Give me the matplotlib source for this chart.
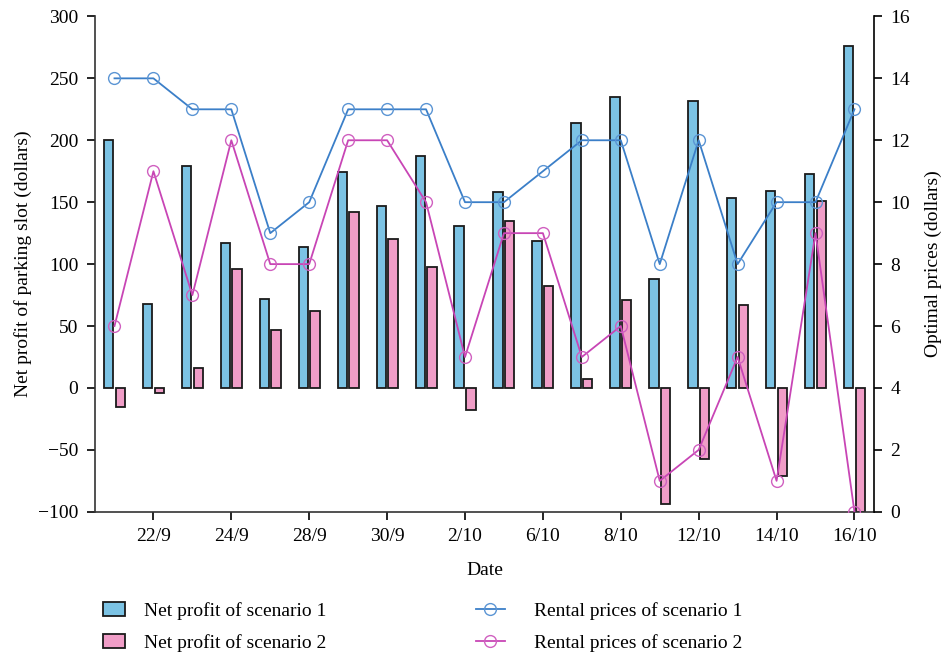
import matplotlib.pyplot as plt
import numpy as np

plt.rcParams['font.family'] = ['Liberation Serif', 'DejaVu Serif']
plt.rcParams['font.size'] = 14

# net profit per day (dollars)
profit1 = [200, 68, 179, 117, 72, 114, 174, 147, 187, 131,
           158, 119, 214, 235, 88, 232, 153, 159, 173, 276]
profit2 = [-15, -4, 16, 96, 47, 62, 142, 120, 98, -18,
           135, 82, 7, 71, -94, -57, 67, -71, 151, -100]
# optimal rental prices (dollars)
price1 = [14, 14, 13, 13, 9, 10, 13, 13, 13, 10,
          10, 11, 12, 12, 8, 12, 8, 10, 10, 13]
price2 = [6, 11, 7, 12, 8, 8, 12, 12, 10, 5,
          9, 9, 5, 6, 1, 2, 5, 1, 9, 0]
tick_labels = ['22/9', '24/9', '28/9', '30/9', '2/10',
               '6/10', '8/10', '12/10', '14/10', '16/10']

x = np.arange(len(profit1))
w = 0.24

fig = plt.figure(figsize=(9.52, 6.57), dpi=100)
ax = fig.add_axes([0.0998, 0.221, 0.8182, 0.754])

b1 = ax.bar(x - 0.15, profit1, w, color='#7cc3e4', edgecolor='#1a1a1a',
            linewidth=1.3, label='Net profit of scenario 1')
b2 = ax.bar(x + 0.15, profit2, w, color='#f09dc7', edgecolor='#1a1a1a',
            linewidth=1.3, label='Net profit of scenario 2')
ax.set_ylim(-100, 300)
ax.set_yticks(np.arange(-100, 301, 50))
ax.set_xlim(-0.5, 19.5)
ax.set_xticks(x[1::2])
ax.set_xticklabels(tick_labels)
ax.set_ylabel('Net profit of parking slot (dollars)')
ax.set_xlabel('Date', labelpad=12)
ax.spines['top'].set_visible(False)
ax.spines['right'].set_visible(False)
ax.tick_params(direction='out', length=6, width=1.2, pad=6)
for s in ['left', 'bottom']:
    ax.spines[s].set_linewidth(1.2)
    ax.spines[s].set_color('#333333')

ax2 = ax.twinx()
l1, = ax2.plot(x, price1, color='#3b7fc8', lw=1.3, marker='o', ms=8.5,
               mfc='none', mec='#5b95d4', mew=1.0,
               label='Rental prices of scenario 1')
l2, = ax2.plot(x, price2, color='#c845b5', lw=1.3, marker='o', ms=8.5,
               mfc='none', mec='#d060c0', mew=1.0,
               label='Rental prices of scenario 2')
ax2.set_ylim(0, 16)
ax2.set_yticks(np.arange(0, 17, 2))
ax2.set_ylabel('Optimal prices (dollars)', labelpad=10)
ax2.spines['top'].set_visible(False)
ax2.spines['left'].set_visible(False)
ax2.spines['bottom'].set_visible(False)
ax2.spines['right'].set_linewidth(1.2)
ax2.tick_params(direction='out', length=6, width=1.2, pad=6)

# bar legend on the left, line legend on the right
leg1 = fig.legend([b1, b2], [b1.get_label(), b2.get_label()],
                  frameon=False, loc='lower left',
                  bbox_to_anchor=(0.0895, -0.019),
                  handlelength=1.15, handleheight=0.75, handletextpad=0.95,
                  labelspacing=0.74)
leg2 = fig.legend([l1, l2], [l1.get_label(), l2.get_label()],
                  frameon=False, loc='lower left',
                  bbox_to_anchor=(0.482, -0.019),
                  handlelength=1.45, handletextpad=1.5, labelspacing=0.74)

fig.savefig('out.png', dpi=100)
